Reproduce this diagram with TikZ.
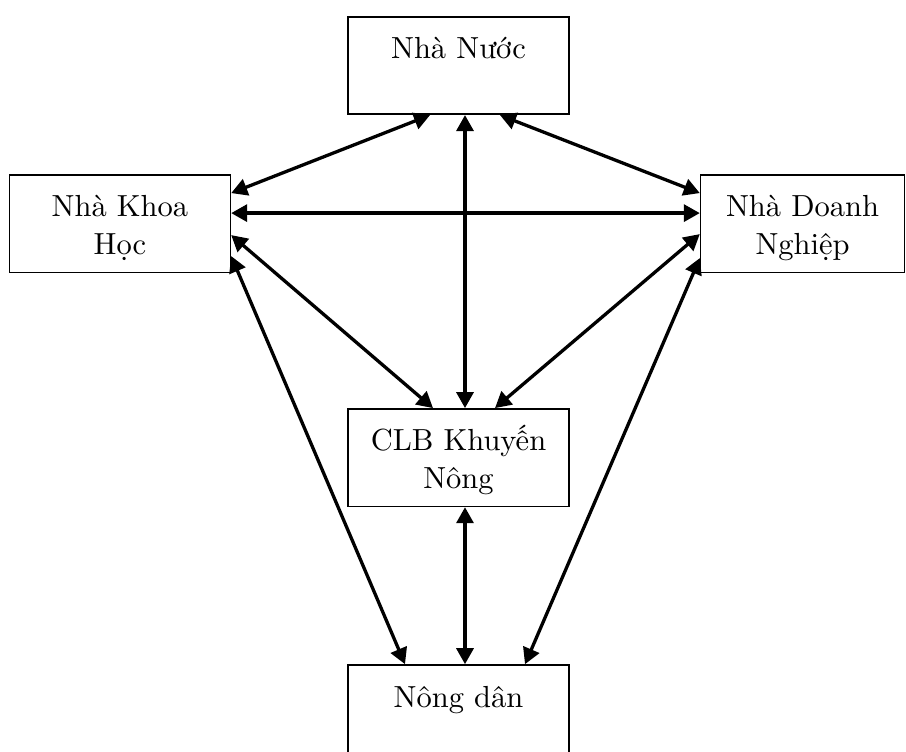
\documentclass[tikz,border=0pt]{standalone}
\usepackage{fontspec}
\setmainfont{lmroman10-regular.otf}
\usetikzlibrary{positioning,arrows.meta}
\tikzstyle{nbox}=[rectangle, draw=black, line width=1.6pt, text centered,
                  align=center, text width=210pt, minimum width=221pt,
                  inner sep=4pt, text height=38pt, text depth=51.5pt,
                  font=\fontsize{30.5}{38}\selectfont]
\tikzstyle{aline}=[{Triangle[length=16pt,width=17pt]}-{Triangle[length=16pt,width=17pt]}, line width=3.3pt]

\begin{document}
\begin{tikzpicture}[x=1pt,y=1pt,node distance=0pt]
\useasboundingbox (0,0) rectangle (906,-752);

\node (NHANUOC) [nbox, anchor=north] at (458.5,-16) {Nhà Nước};
\node (KHOAHOC) [nbox, below left=59pt and 116pt of NHANUOC.south west] {Nhà Khoa\\Học};
\node (DOANHNGHIEP) [nbox, text width=196pt, minimum width=204pt,
  below right=59pt and 130pt of NHANUOC.south east] {Nhà Doanh\\Nghiệp};
\node (CLBKN) [nbox, below=293pt of NHANUOC] {CLB Khuyến\\Nông};
\node (NONGDAN) [nbox, below=157pt of CLBKN] {Nông dân};

 \draw[aline] ([xshift=-28.5pt]NHANUOC.south) -- ([yshift=-19pt]KHOAHOC.north east);
 \draw[aline] ([xshift=6.5pt]NHANUOC.south) -- ([xshift=6.5pt]CLBKN.north);
 \draw[aline] ([xshift=41.5pt]NHANUOC.south) -- ([yshift=-19pt]DOANHNGHIEP.north west);
 \draw[aline] ([yshift=-39pt]KHOAHOC.north east) -- ([yshift=-39pt]DOANHNGHIEP.north west);
 \draw[aline] ([yshift=-61pt]KHOAHOC.north east) -- ([xshift=-25.5pt]CLBKN.north);
 \draw[aline] ([yshift=-60pt]DOANHNGHIEP.north west) -- ([xshift=36.5pt]CLBKN.north);
 \draw[aline] ([yshift=-82pt]KHOAHOC.north east) -- ([xshift=-53.5pt]NONGDAN.north);
 \draw[aline] ([yshift=-84pt]DOANHNGHIEP.north west) -- ([xshift=66.5pt]NONGDAN.north);
 \draw[aline] ([xshift=6.5pt]CLBKN.south) -- ([xshift=6.5pt]NONGDAN.north);

\end{tikzpicture}
\end{document}
